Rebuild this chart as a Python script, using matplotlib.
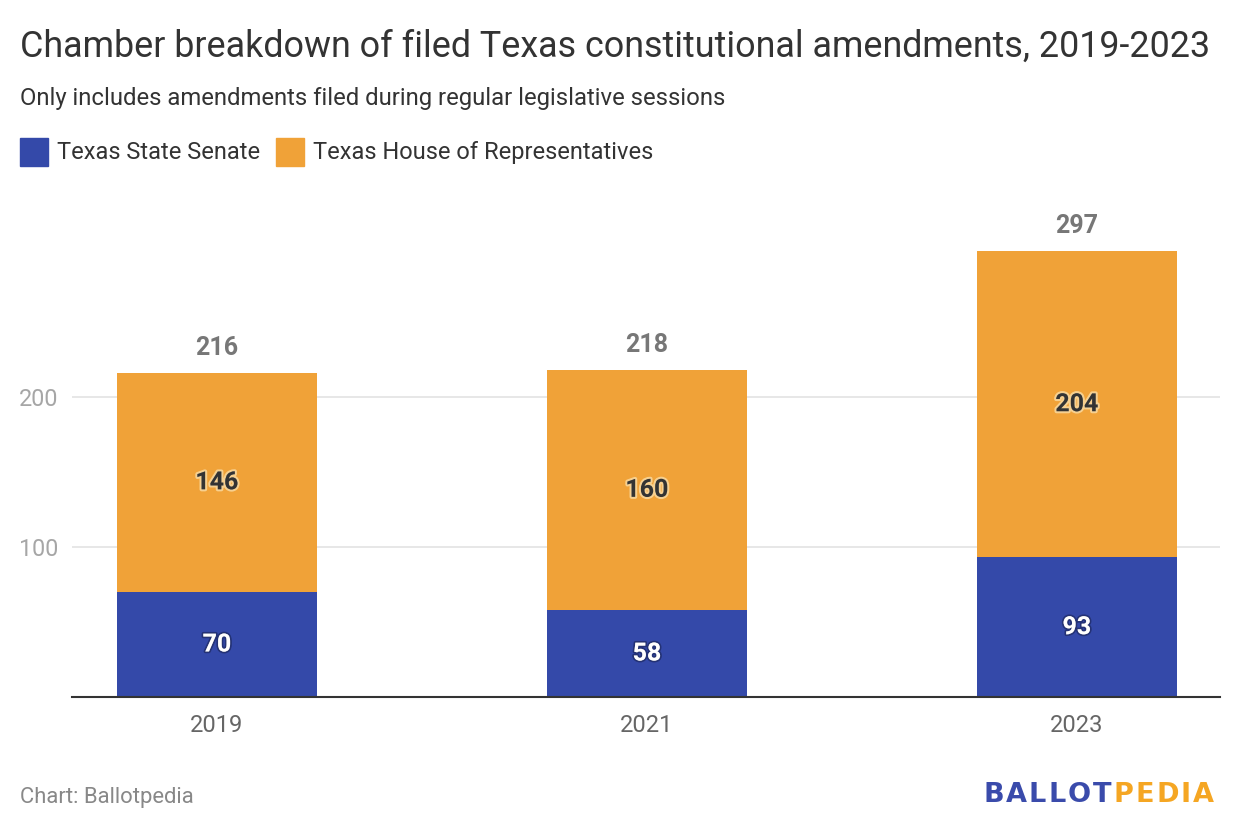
import matplotlib
matplotlib.use("Agg")
import matplotlib.pyplot as plt
import matplotlib.patheffects as pe
from matplotlib.patches import Rectangle
import numpy as np

plt.rcParams['font.family'] = ['Roboto', 'DejaVu Sans']

years = ["2019", "2021", "2023"]
senate = [70, 58, 93]
house = [146, 160, 204]
totals = [216, 218, 297]
yticks = [100, 200]

BLUE = "#3449a9"
ORANGE = "#f0a238"

fig = plt.figure(figsize=(12.4, 8.4), dpi=100)
W, H = 1240, 840
ax = fig.add_axes([72 / W, 1 - 697 / H, (1220 - 72) / W, (697 - 200) / H])

x = np.arange(len(years))
bw = 0.465
ax.bar(x, senate, bw, color=BLUE, zorder=3)
ax.bar(x, house, bw, bottom=senate, color=ORANGE, zorder=3)

ax.set_xlim(-0.337, 2.333)
ax.set_ylim(0, 331)
ax.set_yticks(yticks)
ax.set_yticklabels([str(v) for v in yticks], color="#a6a6a6", fontsize=16.8)
ax.set_xticks(x)
ax.set_xticklabels(years, color="#666666", fontsize=17)
ax.tick_params(axis='y', length=0, pad=10)
ax.tick_params(axis='x', length=0, pad=12)
ax.grid(axis='y', color="#e3e3e3", linewidth=1.2, zorder=0)
for s in ['top', 'right', 'left']:
    ax.spines[s].set_visible(False)
ax.spines['bottom'].set_color("#333333")
ax.spines['bottom'].set_linewidth(1.5)
ax.spines['bottom'].set_zorder(4)

for i in range(len(years)):
    ax.text(x[i], senate[i] / 2, str(senate[i]), ha='center', va='center',
            color='white', fontsize=18, fontweight='bold', zorder=5,
            path_effects=[pe.withStroke(linewidth=2.5, foreground=(0, 0, 0, 0.3))])
    ax.text(x[i], senate[i] + house[i] / 2, str(house[i]), ha='center', va='center',
            color='#333333', fontsize=18, fontweight='bold', zorder=5,
            path_effects=[pe.withStroke(linewidth=3, foreground=(1, 1, 0.9, 0.5))])
    ax.text(x[i], totals[i] + 8.5, str(totals[i]), ha='center', va='bottom',
            color='#777777', fontsize=18, fontweight='bold', zorder=5)

fig.text(20 / W, 1 - 46.5 / H, "Chamber breakdown of filed Texas constitutional amendments, 2019-2023",
         fontsize=25.8, color="#333333", va='center', ha='left')
fig.text(20 / W, 1 - 98.5 / H, "Only includes amendments filed during regular legislative sessions",
         fontsize=17.2, color="#333333", va='center', ha='left')

# legend
fig.patches.append(Rectangle((20 / W, 1 - 166 / H), 28 / W, 28 / H, transform=fig.transFigure,
                             color=BLUE, figure=fig))
fig.text(57 / W, 1 - 152.5 / H, "Texas State Senate", fontsize=17, color="#333333", va='center', ha='left')
fig.patches.append(Rectangle((276 / W, 1 - 166 / H), 28 / W, 28 / H, transform=fig.transFigure,
                             color=ORANGE, figure=fig))
fig.text(313 / W, 1 - 152.5 / H, "Texas House of Representatives", fontsize=17, color="#333333",
         va='center', ha='left')

fig.text(20 / W, 1 - 798 / H, "Chart: Ballotpedia", fontsize=15.8, color="#888888", va='center', ha='left')

# logo with letter spacing
logo = "BALLOTPEDIA"
fs_logo = 19.5
logo_font = ['DejaVu Sans']
fig.canvas.draw()
renderer = fig.canvas.get_renderer()
widths = []
for ch in logo:
    t = fig.text(0, 0, ch, fontsize=fs_logo, fontweight='bold', family=logo_font)
    widths.append(t.get_window_extent(renderer).width)
    t.remove()
x0, x1 = 983, 1214
gap = (x1 - x0 - sum(widths)) / (len(logo) - 1)
cx = x0
for k, ch in enumerate(logo):
    col = "#3a4bab" if k < 6 else "#f5a623"
    fig.text(cx / W, 1 - 795 / H, ch, fontsize=fs_logo, fontweight='bold', color=col,
             family=logo_font, va='center', ha='left')
    cx += widths[k] + gap

fig.savefig("out.png", dpi=100)
